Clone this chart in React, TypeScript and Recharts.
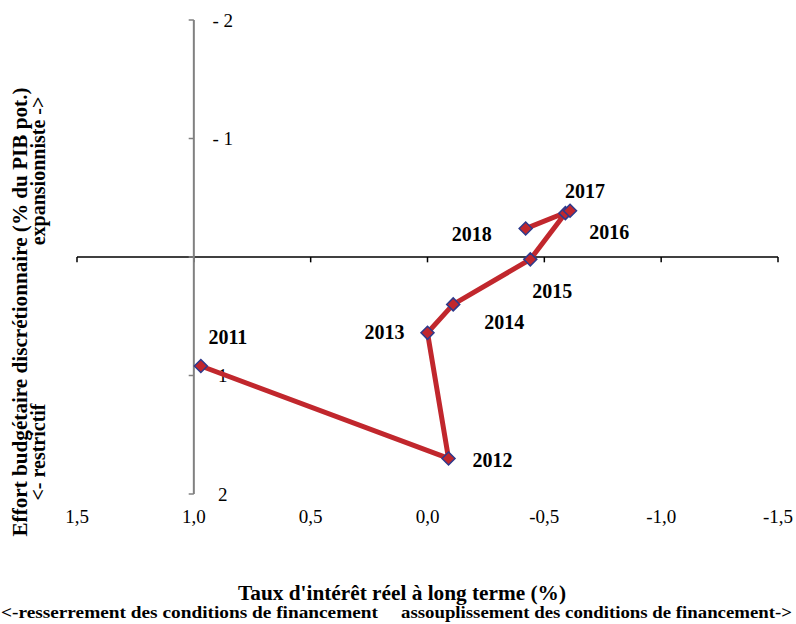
import React from "react";
import {
  ScatterChart,
  Scatter,
  XAxis,
  YAxis,
  ReferenceLine,
  ReferenceDot,
  LabelList,
} from "recharts";

const years = ["2011", "2012", "2013", "2014", "2015", "2016", "2017", "2018"];
const realRate = [0.97, -0.09, 0.0, -0.11, -0.44, -0.59, -0.61, -0.42];
const fiscalEffort = [0.92, 1.7, 0.64, 0.4, 0.02, -0.37, -0.39, -0.24];

const xTicks = [1.5, 1, 0.5, 0, -0.5, -1, -1.5];
const yTicks = [-2, -1, 0, 1, 2];
const yTickLabels = ["- 2", "- 1", "", "1", "2"];

const points = years.map((year, i) => ({
  year,
  x: realRate[i],
  y: fiscalEffort[i],
}));

// where each year label sits relative to its point (px)
const labelOffsets: Record<string, [number, number]> = {
  "2011": [27, -29],
  "2012": [44, 2],
  "2013": [-43, -1],
  "2014": [51, 18],
  "2015": [22, 32],
  "2016": [44, 19],
  "2017": [15, -20],
  "2018": [-54, 5],
};

const FONT = '"Liberation Serif", "Times New Roman", serif';
const RED = "#c1272d";
const NAVY = "#2e3a8c";

const Diamond = (props: any) => {
  const { cx, cy } = props;
  const r = 6.5;
  return (
    <polygon
      points={`${cx},${cy - r} ${cx + r},${cy} ${cx},${cy + r} ${cx - r},${cy}`}
      fill={RED}
      stroke={NAVY}
      strokeWidth={1.5}
    />
  );
};

const YearLabel = (props: any) => {
  const { x, y, width, height, value } = props;
  const [dx, dy] = labelOffsets[value] || [0, 0];
  return (
    <text
      x={x + width / 2 + dx}
      y={y + height / 2 + dy}
      textAnchor="middle"
      dominantBaseline="central"
      fontFamily={FONT}
      fontWeight="bold"
      fontSize={20}
      fill="#000"
    >
      {value}
    </text>
  );
};

const XTick = (props: any) => {
  const { x, y, payload } = props;
  return (
    <text
      x={x}
      y={y}
      dy="0.71em"
      textAnchor="middle"
      fontFamily={FONT}
      fontSize={19}
      fill="#000"
    >
      {fmtX(payload.value)}
    </text>
  );
};

const fmtX = (v: number) => v.toFixed(1).replace(".", ",");

export default function App() {
  return (
    <div
      style={{
        position: "absolute",
        left: 0,
        top: 0,
        width: 796,
        height: 624,
        background: "#fff",
        fontFamily: FONT,
      }}
    >
      <ScatterChart
        width={796}
        height={624}
        margin={{ top: 20, right: 18, bottom: 100, left: 77 }}
        style={{ fontFamily: FONT }}
      >
        <XAxis
          type="number"
          dataKey="x"
          domain={[-1.5, 1.5]}
          ticks={xTicks}
          reversed
          axisLine={false}
          tickLine={false}
          tickMargin={10}
          height={30}
          interval={0}
          tick={<XTick />}
        />
        <YAxis type="number" dataKey="y" domain={[-2, 2]} ticks={yTicks} reversed hide />

        <ReferenceLine y={0} stroke="#000" strokeWidth={1.5} />
        {xTicks.map((t) => (
          <ReferenceLine
            key={"xt" + t}
            segment={[
              { x: t, y: 0 },
              { x: t, y: 0.045 },
            ]}
            stroke="#000"
            strokeWidth={1.5}
          />
        ))}
        <ReferenceLine x={1} stroke="#808080" strokeWidth={2} />
        {yTicks.map((t) => (
          <ReferenceLine
            key={"yt" + t}
            segment={[
              { x: 1, y: t },
              { x: 1.022, y: t },
            ]}
            stroke="#808080"
            strokeWidth={1.5}
          />
        ))}
        {yTicks.map((t, i) => (
          <ReferenceDot
            key={"yl" + t}
            x={1}
            y={t}
            r={1}
            fill="none"
            stroke="none"
            label={(p: any) => {
              const vb = p.viewBox || {};
              return (
                <text
                  x={vb.x + (vb.width || 0) / 2 + 29}
                  y={vb.y + (vb.height || 0) / 2}
                  textAnchor="middle"
                  dominantBaseline="central"
                  fontFamily={FONT}
                  fontSize={19}
                  fill="#000"
                >
                  {yTickLabels[i]}
                </text>
              );
            }}
          />
        ))}

        <Scatter
          data={points}
          line={{ stroke: RED, strokeWidth: 5 }}
          lineType="joint"
          shape={Diamond}
          isAnimationActive={false}
        >
          <LabelList dataKey="year" content={YearLabel} />
        </Scatter>
      </ScatterChart>

      <svg
        width={796}
        height={624}
        style={{ position: "absolute", left: 0, top: 0, pointerEvents: "none" }}
      >
        <g fontFamily={FONT} fontWeight="bold" fill="#000">
          <text x={402} y={600} textAnchor="middle" fontSize={20} textLength={328} lengthAdjust="spacingAndGlyphs">
            Taux d'intérêt réel à long terme (%)
          </text>
          <text x={1} y={618} textAnchor="start" fontSize={17} textLength={377} lengthAdjust="spacingAndGlyphs">
            {"<-resserrement des conditions de financement"}
          </text>
          <text x={792} y={618} textAnchor="end" fontSize={17} textLength={391} lengthAdjust="spacingAndGlyphs">
            {"assouplissement des conditions de financement->"}
          </text>
          <text
            transform="translate(27,312) rotate(-90)"
            textAnchor="middle"
            fontSize={20}
            textLength={449}
            lengthAdjust="spacingAndGlyphs"
          >
            Effort budgétaire discrétionnaire (% du PIB pot.)
          </text>
          <text
            transform="translate(45,171) rotate(-90)"
            textAnchor="middle"
            fontSize={20}
          >
            {"expansionniste ->"}
          </text>
          <text
            transform="translate(45,452) rotate(-90)"
            textAnchor="middle"
            fontSize={20}
          >
            {"<- restrictif"}
          </text>
        </g>
      </svg>
    </div>
  );
}
